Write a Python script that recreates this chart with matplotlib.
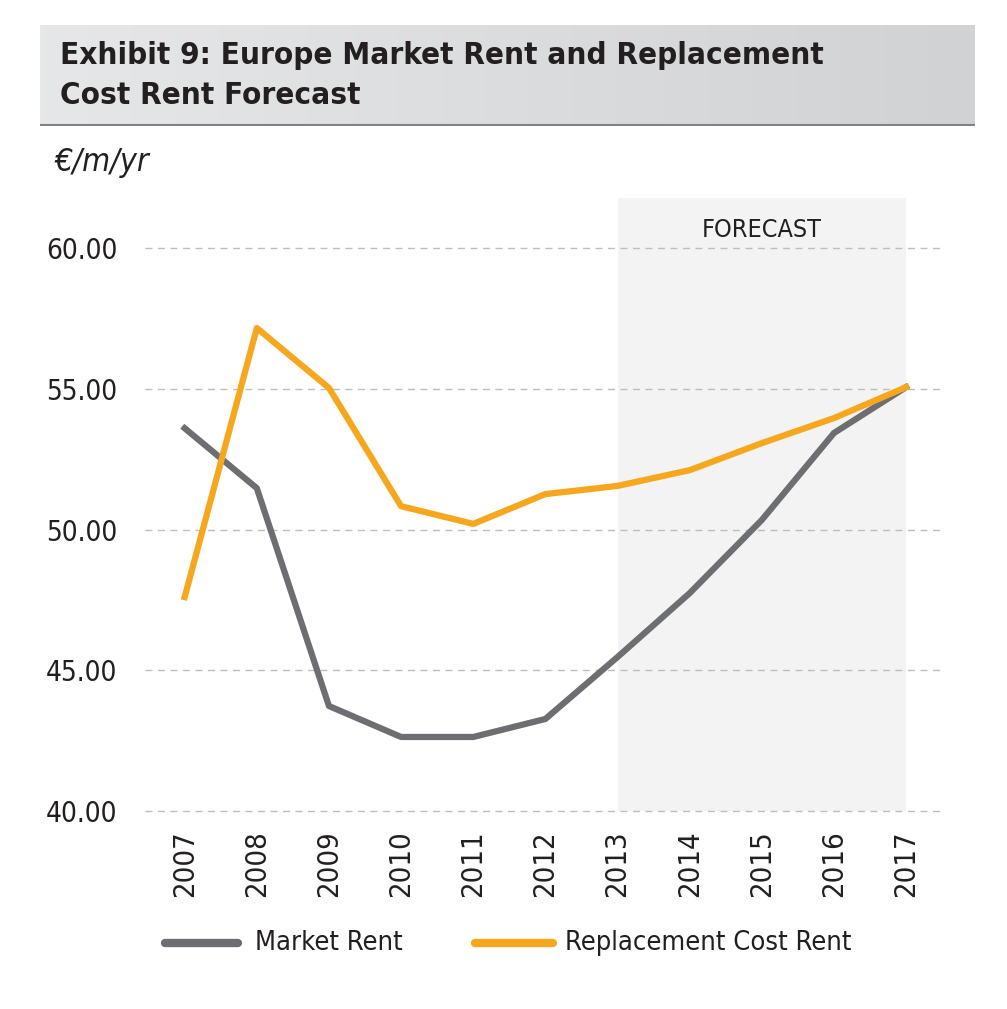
import matplotlib
matplotlib.use("Agg")
import matplotlib.pyplot as plt
import numpy as np
from matplotlib.lines import Line2D
from matplotlib.colors import LinearSegmentedColormap

years = [2007, 2008, 2009, 2010, 2011, 2012, 2013, 2014, 2015, 2016, 2017]
market_rent = [53.6, 51.47, 43.73, 42.63, 42.63, 43.27, 45.47, 47.74, 50.34, 53.43, 55.06]
replacement_cost_rent = [47.6, 57.16, 55.03, 50.83, 50.2, 51.26, 51.55, 52.11, 53.07, 53.96, 55.06]
y_ticks = [40, 45, 50, 55, 60]
forecast_start, forecast_end = 2013, 2017
series_names = ['Market Rent', 'Replacement Cost Rent']

plt.rcParams['font.family'] = ['Liberation Sans Narrow', 'DejaVu Sans']
plt.rcParams['font.stretch'] = 'condensed'

GRAY = '#6d6e71'
ORANGE = '#f7a71e'
TXT = '#231f20'

W, H = 1007, 1009
fig = plt.figure(figsize=(W / 100, H / 100), dpi=100)

# Title box with gradient
tax = fig.add_axes([40 / W, 1 - 126 / H, 935 / W, 101 / H])
grad = np.linspace(0, 1, 256).reshape(1, -1)
cmap = LinearSegmentedColormap.from_list('g', ['#e6e7e8', '#d1d2d4'])
tax.imshow(grad, aspect='auto', cmap=cmap, extent=[0, 1, 0, 1])
tax.set_xlim(0, 1); tax.set_ylim(0, 1)
tax.axis('off')
tax.axhline(0.005, color='#808285', lw=1.5)
fig.text(60 / W, 1 - 55 / H, 'Exhibit 9: Europe Market Rent and Replacement',
         fontsize=22.5, fontweight='bold', va='center', ha='left', color=TXT)
fig.text(60 / W, 1 - 96 / H, 'Cost Rent Forecast',
         fontsize=22.5, fontweight='bold', va='center', ha='left', color=TXT)

fig.text(55 / W, 1 - 163 / H, '€/m/yr', fontsize=23, style='italic',
         va='center', ha='left', color=TXT)

ax = fig.add_axes([145 / W, 198 / H, 795 / W, 613 / H])
ax.set_ylim(40, 61.78)
ax.set_xlim(2006.45, 2017.47)
ax.axvspan(forecast_start, forecast_end, color='#f2f3f2', zorder=0, lw=0)
ax.text((forecast_start + forecast_end) / 2, 60.64, 'FORECAST', ha='center', va='center',
        fontsize=18, color=TXT)
for yv in y_ticks:
    ax.axhline(yv, color='#bcbec0', lw=1, ls=(0, (5, 4)), zorder=1, clip_on=False)

ax.plot(years, market_rent, color=GRAY, lw=4.5, zorder=3)
ax.plot(years, replacement_cost_rent, color=ORANGE, lw=4.5, zorder=4)

for s in ax.spines.values():
    s.set_visible(False)
ax.set_yticks(y_ticks)
ax.set_yticklabels([f'{v:.2f}' for v in y_ticks], fontsize=20, color=TXT)
ax.set_xticks(years)
ax.set_xticklabels([str(y) for y in years], rotation=90, fontsize=21, color=TXT)
ax.tick_params(axis='both', length=0)
ax.tick_params(axis='y', pad=20)
ax.tick_params(axis='x', pad=14)

# Legend
leg_y = 1 - 943 / H
for (x0, x1, xt), col, name in zip([(165, 238, 255), (475, 553, 565)], [GRAY, ORANGE], series_names):
    fig.add_artist(Line2D([x0 / W, x1 / W], [leg_y, leg_y], color=col, lw=6,
                          solid_capstyle='round', transform=fig.transFigure))
    fig.text(xt / W, leg_y, name, fontsize=19.5, va='center', ha='left', color=TXT)

fig.savefig('out.png', dpi=100, facecolor='white')
